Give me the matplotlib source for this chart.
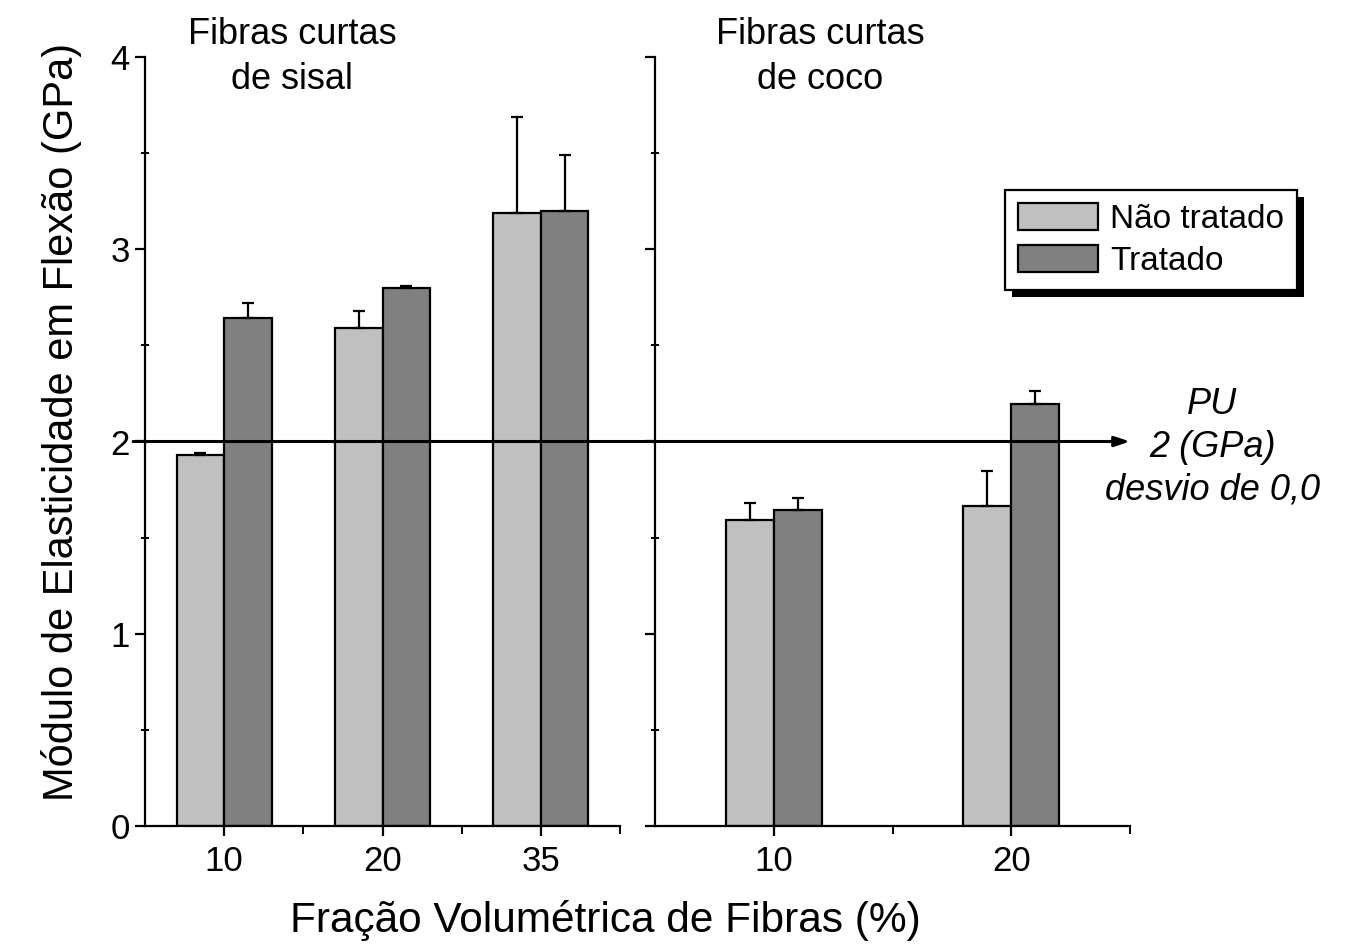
import numpy as np
import matplotlib
matplotlib.use("Agg")
import matplotlib.pyplot as plt
from matplotlib.patches import Rectangle
from matplotlib.ticker import MultipleLocator, FixedLocator

plt.rcParams["font.family"] = ["Liberation Sans", "DejaVu Sans"]

# sisal panel
sisal_cats = ["10", "20", "35"]
sisal_nt = [1.93, 2.59, 3.19]
sisal_nt_err = [0.01, 0.09, 0.50]
sisal_t = [2.64, 2.80, 3.20]
sisal_t_err = [0.08, 0.01, 0.29]

# coco panel
coco_cats = ["10", "20"]
coco_nt = [1.59, 1.665]
coco_nt_err = [0.09, 0.18]
coco_t = [1.645, 2.195]
coco_t_err = [0.06, 0.07]

pu_value = 2.0
series_names = ["Não tratado", "Tratado"]
LIGHT, DARK = "#c0c0c0", "#808080"

W, H = 1361, 946
fig = plt.figure(figsize=(W / 100, H / 100), dpi=100)


def px_axes(x0, x1, y0, y1):
    return fig.add_axes([x0 / W, 1 - y1 / H, (x1 - x0) / W, (y1 - y0) / H])


ax1 = px_axes(145, 620, 57, 826)
ax2 = px_axes(655, 1130, 57, 826)


def draw_panel(ax, cats, nt, nt_err, t, t_err, w):
    x = np.arange(len(cats))
    kw = dict(width=w, edgecolor="black", linewidth=1.6,
              error_kw=dict(elinewidth=1.6, capthick=1.6, ecolor="black"),
              capsize=4, zorder=2)
    b1 = ax.bar(x - w / 2, nt, yerr=[np.zeros(len(nt)), nt_err],
                color=LIGHT, label=series_names[0], **kw)
    b2 = ax.bar(x + w / 2, t, yerr=[np.zeros(len(t)), t_err],
                color=DARK, label=series_names[1], **kw)
    ax.set_xlim(-0.5, len(cats) - 0.5)
    ax.set_ylim(0, 4)
    ax.set_xticks(x)
    ax.set_xticklabels(cats)
    ax.xaxis.set_minor_locator(FixedLocator(x + 0.5))
    ax.yaxis.set_major_locator(MultipleLocator(1))
    ax.yaxis.set_minor_locator(MultipleLocator(0.5))
    for s in ("top", "right"):
        ax.spines[s].set_visible(False)
    for s in ("left", "bottom"):
        ax.spines[s].set_linewidth(1.6)
    ax.tick_params(axis="both", which="major", direction="out", length=7,
                   width=1.6, labelsize=25)
    ax.tick_params(axis="x", which="major", pad=7)
    ax.tick_params(axis="y", which="major", pad=4)
    ax.tick_params(axis="y", which="minor", direction="inout", length=6,
                   width=1.4)
    ax.tick_params(axis="x", which="minor", direction="out", length=6,
                   width=1.4)
    ax.patch.set_alpha(0)
    return b1, b2


h1, h2 = draw_panel(ax1, sisal_cats, sisal_nt, sisal_nt_err,
                    sisal_t, sisal_t_err, 0.30)
draw_panel(ax2, coco_cats, coco_nt, coco_nt_err, coco_t, coco_t_err, 0.203)
ax2.tick_params(axis="y", labelleft=False)

ax1.text(0.31, 1.0, "Fibras curtas\nde sisal", transform=ax1.transAxes,
         ha="center", va="center", fontsize=26, linespacing=1.4)
ax2.text(0.347, 1.0, "Fibras curtas\nde coco", transform=ax2.transAxes,
         ha="center", va="center", fontsize=26, linespacing=1.4)

# PU reference line with arrow across both panels
ax2.annotate("", xy=(1.5, pu_value), xycoords=ax2.transData,
             xytext=(-0.575, pu_value), textcoords=ax1.transData,
             arrowprops=dict(arrowstyle="-|>,head_length=0.9,head_width=0.3",
                             lw=2.2, color="black", shrinkA=0, shrinkB=0),
             annotation_clip=False, zorder=5)
ax2.text(1.173, pu_value - 0.03, "PU\n2 (GPa)\ndesvio de 0,0",
         transform=ax2.get_yaxis_transform(), ha="center", va="center",
         fontsize=26, style="italic", linespacing=1.3, clip_on=False)

fig.text(62 / W, 1 - 422 / H, "Módulo de Elasticidade em Flexão (GPa)",
         rotation=90, ha="center", va="center", fontsize=30)
fig.text(605 / W, 1 - 920 / H, "Fração Volumétrica de Fibras (%)",
         ha="center", va="center", fontsize=30.5)

leg = fig.legend([h1, h2], series_names, loc="upper left",
                 bbox_to_anchor=(1005 / W, 1 - 190 / H), fontsize=24,
                 frameon=True, fancybox=False, edgecolor="black",
                 framealpha=1, borderaxespad=0, handlelength=2.4,
                 handleheight=0.85, handletextpad=0.35, labelspacing=0.3,
                 borderpad=0.4)
leg.get_frame().set_linewidth(1.6)
leg.set_zorder(10)

fig.canvas.draw()
bb = leg.get_frame().get_window_extent(fig.canvas.get_renderer())
shadow = Rectangle((bb.x0 + 7, bb.y0 - 7), bb.width, bb.height,
                   transform=None, facecolor="black", edgecolor="none",
                   zorder=9)
fig.patches.append(shadow)
shadow.set_figure(fig)

fig.savefig("out.png", dpi=100)
